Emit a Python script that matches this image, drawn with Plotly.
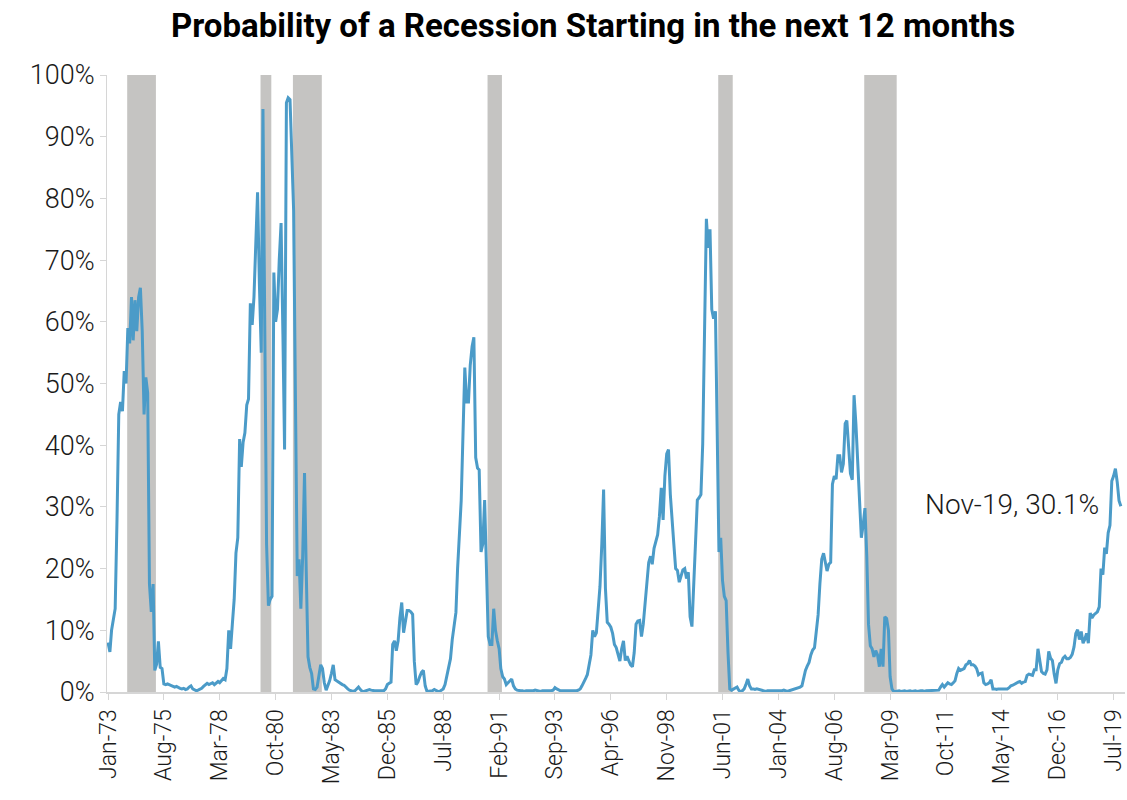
import plotly.graph_objects as go
import pandas as pd

# ---- data (monthly, Jan-73 .. Nov-19), % probability ----
start_month = "1973-01-01"
prob = [
    8.0, 6.5, 10.0, 12.0, 13.5, 28.0, 45.0, 47.0, 45.5, 52.0,
    50.0, 59.0, 56.5, 64.0, 57.0, 63.5, 58.5, 64.0, 65.5, 58.5,
    45.0, 51.0, 48.5, 17.5, 13.0, 17.5, 3.5, 4.5, 8.2, 4.0,
    3.8, 1.3, 1.2, 1.3, 1.2, 1.1, 1.0, 0.8, 0.9, 0.7,
    0.6, 0.5, 0.6, 0.4, 0.5, 0.8, 1.0, 0.5, 0.3, 0.2,
    0.3, 0.4, 0.6, 0.9, 1.1, 1.4, 1.2, 1.3, 1.5, 1.2,
    1.4, 1.7, 1.5, 1.8, 2.2, 2.0, 3.8, 10.0, 7.0, 11.0,
    15.0, 22.5, 25.0, 41.0, 36.5, 40.5, 42.0, 46.5, 47.5, 63.0,
    59.5, 64.0, 73.0, 81.0, 66.0, 55.0, 94.5, 60.0, 24.0, 14.0,
    15.0, 15.5, 68.0, 60.0, 62.0, 70.0, 76.0, 58.0, 39.3, 95.5,
    96.3, 96.0, 88.0, 78.0, 47.0, 18.8, 21.5, 13.5, 22.0, 35.5,
    20.0, 5.7, 4.0, 3.0, 0.5, 0.4, 0.8, 2.5, 4.4, 3.8,
    1.5, 0.3, 1.0, 1.8, 3.0, 4.4, 2.0, 1.8, 1.5, 1.3,
    1.2, 1.1, 0.7, 0.5, 0.3, 0.2, 0.1, 0.2, 0.5, 0.8,
    0.4, 0.1, 0.1, 0.2, 0.3, 0.4, 0.3, 0.2, 0.2, 0.2,
    0.2, 0.2, 0.2, 0.2, 0.5, 1.2, 1.4, 1.6, 7.7, 8.3,
    6.7, 8.3, 12.0, 14.5, 9.6, 11.5, 13.2, 13.2, 13.0, 12.6,
    5.0, 1.2, 1.6, 2.5, 3.2, 3.5, 1.0, 0.1, 0.1, 0.1,
    0.2, 0.4, 0.2, 0.1, 0.1, 0.3, 0.5, 1.2, 2.5, 4.0,
    5.4, 8.5, 11.0, 12.9, 20.0, 26.0, 31.0, 42.0, 52.6, 47.0,
    47.0, 53.0, 56.0, 57.5, 38.0, 36.3, 36.0, 22.7, 24.0, 31.1,
    19.4, 9.0, 7.7, 7.7, 13.5, 10.0, 8.3, 7.0, 3.8, 2.5,
    2.1, 1.2, 1.5, 1.9, 2.1, 1.0, 0.5, 0.3, 0.2, 0.2,
    0.2, 0.1, 0.2, 0.2, 0.1, 0.2, 0.2, 0.3, 0.2, 0.2,
    0.1, 0.2, 0.2, 0.2, 0.1, 0.2, 0.2, 0.3, 0.7, 0.5,
    0.3, 0.2, 0.2, 0.2, 0.1, 0.2, 0.2, 0.1, 0.2, 0.2,
    0.2, 0.3, 0.5, 1.0, 1.5, 2.2, 2.8, 4.5, 6.0, 10.0,
    9.0, 9.6, 13.0, 17.1, 24.0, 32.8, 16.8, 11.3, 11.0, 10.5,
    9.5, 7.7, 7.2, 6.0, 5.0, 7.0, 8.3, 5.1, 5.8, 5.0,
    4.4, 4.1, 6.4, 11.0, 11.5, 11.6, 9.0, 11.0, 14.8, 18.5,
    21.0, 22.0, 20.7, 23.3, 24.5, 25.5, 28.5, 33.1, 27.9, 35.0,
    38.6, 39.3, 32.0, 28.5, 24.0, 20.0, 19.7, 17.8, 19.0, 19.8,
    20.0, 18.4, 19.4, 12.2, 10.6, 17.0, 25.0, 31.1, 31.5, 32.0,
    40.2, 58.0, 76.7, 72.0, 75.0, 62.0, 60.5, 61.7, 40.0, 22.7,
    25.0, 18.0, 15.5, 14.8, 6.4, 0.5, 0.3, 0.5, 0.6, 0.8,
    0.3, 0.0, 0.2, 0.5, 1.2, 2.1, 1.0, 0.5, 0.5, 0.4,
    0.5, 0.4, 0.3, 0.2, 0.2, 0.1, 0.2, 0.2, 0.1, 0.2,
    0.2, 0.1, 0.1, 0.2, 0.2, 0.3, 0.2, 0.1, 0.2, 0.3,
    0.3, 0.4, 0.5, 0.6, 0.8, 1.0, 2.2, 3.5, 4.2, 4.8,
    6.0, 6.8, 7.2, 9.6, 12.5, 17.5, 21.5, 22.5, 21.0, 19.6,
    20.7, 21.0, 33.7, 35.0, 34.5, 38.3, 38.3, 35.6, 37.0, 43.5,
    44.0, 39.0, 35.4, 34.4, 48.1, 43.5, 37.0, 30.5, 25.0, 27.0,
    29.8, 22.0, 11.0, 7.5, 7.0, 5.7, 6.7, 6.0, 4.1, 7.0,
    4.1, 12.2, 11.9, 10.0, 2.5, 0.5, 0.1, 0.1, 0.2, 0.2,
    0.1, 0.2, 0.2, 0.1, 0.2, 0.2, 0.1, 0.2, 0.2, 0.1,
    0.2, 0.2, 0.2, 0.1, 0.2, 0.2, 0.3, 0.2, 0.2, 0.3,
    0.2, 0.3, 0.8, 1.2, 0.8, 1.2, 1.5, 1.3, 1.2, 1.5,
    1.8, 3.0, 3.8, 3.5, 3.6, 3.8, 4.4, 4.6, 5.1, 4.4,
    4.4, 4.2, 3.8, 2.8, 3.0, 3.1, 1.5, 1.2, 1.3, 1.5,
    2.0, 0.5, 0.5, 0.4, 0.5, 0.5, 0.5, 0.6, 0.6, 0.5,
    0.7, 1.0, 1.1, 1.3, 1.4, 1.6, 1.7, 1.4, 1.6, 1.7,
    2.7, 2.9, 2.8, 2.7, 3.6, 3.6, 7.0, 4.8, 3.3, 3.0,
    2.9, 3.6, 6.6, 5.5, 5.1, 2.9, 1.4, 3.6, 4.6, 4.8,
    5.5, 5.8, 5.4, 5.4, 5.6, 6.1, 7.3, 9.5, 10.1, 8.5,
    9.8, 7.9, 8.5, 9.5, 7.9, 12.8, 12.0, 12.5, 12.8, 13.0,
    13.8, 20.0, 19.0, 23.4, 22.4, 25.8, 27.0, 34.2, 35.0, 36.2,
    34.0, 31.0, 30.1,
]

recession_starts = ["1973-11-01", "1980-01-01", "1981-07-01", "1990-07-01", "2001-03-01", "2007-12-01"]
recession_ends = ["1975-03-01", "1980-07-01", "1982-11-01", "1991-03-01", "2001-11-01", "2009-06-01"]

tick_labels = ["Jan-73", "Aug-75", "Mar-78", "Oct-80", "May-83", "Dec-85", "Jul-88",
               "Feb-91", "Sep-93", "Apr-96", "Nov-98", "Jun-01", "Jan-04", "Aug-06",
               "Mar-09", "Oct-11", "May-14", "Dec-16", "Jul-19"]
y_ticks = [0, 10, 20, 30, 40, 50, 60, 70, 80, 90, 100]
y_tick_labels = ["0%", "10%", "20%", "30%", "40%", "50%", "60%", "70%", "80%", "90%", "100%"]
last_label = "Nov-19, 30.1%"
title_text = "Probability of a Recession Starting in the next 12 months"

# ---- build ----
dates = pd.date_range(start_month, periods=len(prob), freq="MS")
tick_dates = list(dates[::31][:len(tick_labels)])

fig = go.Figure()

shift = pd.Timedelta(days=19)
for s, e in zip(recession_starts, recession_ends):
    fig.add_shape(type="rect", xref="x", yref="y",
                  x0=pd.Timestamp(s) + shift, x1=pd.Timestamp(e) + shift,
                  y0=0, y1=100, fillcolor="#c5c4c2", line_width=0, layer="below")

fig.add_trace(go.Scatter(x=dates, y=prob, mode="lines",
                         line=dict(color="#4b9bc8", width=3),
                         showlegend=False, hoverinfo="skip"))

fig.add_annotation(x=dates[-1], y=prob[-1], xref="x", yref="y",
                   text=last_label, showarrow=False, xanchor="right", yanchor="middle",
                   xshift=-20, yshift=2,
                   font=dict(family="Roboto", size=28, color="#1a1a1a", weight=300))

fig.update_layout(
    width=1127, height=800,
    margin=dict(l=107, r=0, t=75, b=108),
    paper_bgcolor="white", plot_bgcolor="white",
    title=dict(text=title_text, x=0.4775, xref="paper", xanchor="center",
               y=1 - 25 / 800, yref="container", yanchor="middle",
               font=dict(family="Roboto", size=33, color="#000000", weight=700)),
    xaxis=dict(
        type="date",
        range=["1972-12-14", "2020-01-10"],
        tickmode="array", tickvals=tick_dates, ticktext=tick_labels,
        tickangle=-90, ticklabeloverflow="allow",
        tickfont=dict(family="Roboto", size=23, color="#1a1a1a", weight=300),
        showgrid=False, zeroline=False,
        showline=True, linecolor="#d6d6d6", linewidth=2,
        ticks="outside", ticklen=6, tickcolor="#d6d6d6", tickwidth=1,
    ),
    yaxis=dict(
        range=[0, 100],
        tickmode="array", tickvals=y_ticks, ticktext=y_tick_labels,
        tickfont=dict(family="Roboto", size=27, color="#1a1a1a", weight=300),
        showgrid=False, zeroline=False,
        showline=True, linecolor="#d6d6d6", linewidth=1,
        ticks="outside", ticklen=6, tickcolor="#d6d6d6", tickwidth=1,
    ),
)

fig.write_html("out.html")
